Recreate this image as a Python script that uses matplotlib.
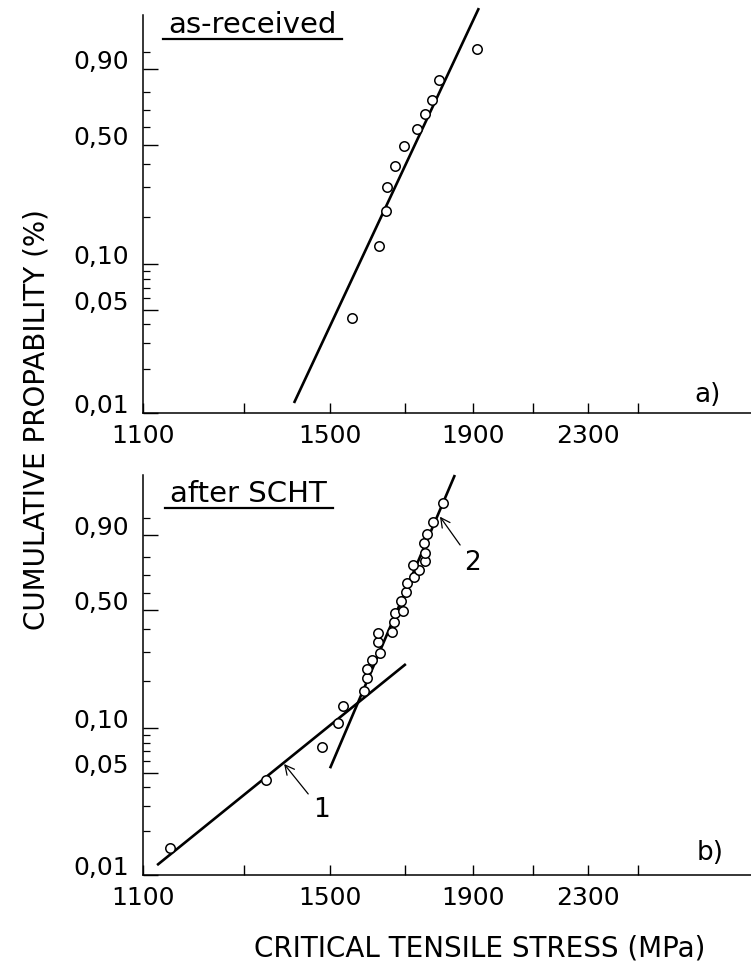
import numpy as np
import matplotlib
matplotlib.use("Agg")
import matplotlib.pyplot as plt
from matplotlib.lines import Line2D
from matplotlib.ticker import NullFormatter

# ---------------- data ----------------
# panel a) as-received
stress_a = [1555, 1628, 1646, 1649, 1671, 1697, 1734, 1756, 1777, 1798, 1915]
prob_a = [0.0439, 0.131, 0.218, 0.302, 0.392, 0.496, 0.589, 0.676, 0.756, 0.856, 0.958]
fit_a_stress = [1413, 1920]
fit_a_prob = [0.0117, 0.9976]

# panel b) after SCHT
stress_b = [1150, 1350, 1479, 1521, 1533, 1588, 1594, 1596, 1607, 1630,
            1623, 1623, 1663, 1668, 1671, 1694, 1687, 1701, 1705, 1725,
            1739, 1720, 1757, 1756, 1753, 1763, 1778, 1810]
prob_b = [0.0153, 0.0448, 0.0751, 0.107, 0.139, 0.172, 0.209, 0.237, 0.268, 0.296,
          0.341, 0.380, 0.387, 0.437, 0.482, 0.494, 0.551, 0.601, 0.658, 0.693,
          0.731, 0.760, 0.780, 0.823, 0.869, 0.903, 0.940, 0.978]
fit_b1_stress = [1126, 1701]
fit_b1_prob = [0.0117, 0.2536]
fit_b2_stress = [1500, 1845]
fit_b2_prob = [0.0538, 0.9975]

# annotations: (label, point on line, label position)
ann_b = [("1", (1390, 0.0575), (1478, 0.028)),
         ("2", (1800, 0.954), (1901, 0.77))]

# axes ticks
x_major = [1100, 1500, 1900, 2300]
x_major_labels = ["1100", "1500", "1900", "2300"]
x_minor = [1300, 1700, 2100, 2500]
y_major = [0.01, 0.05, 0.10, 0.50, 0.90]
y_major_labels = ["0,01", "0,05", "0,10", "0,50", "0,90"]
y_minor = [0.02, 0.03, 0.04, 0.06, 0.07, 0.08, 0.09, 0.2, 0.3, 0.4,
           0.6, 0.7, 0.8, 0.95]

titles = ["as-received", "after SCHT"]
panel_tags = ["a)", "b)"]
y_label = "CUMULATIVE PROPABILITY (%)"
x_label = "CRITICAL TENSILE STRESS (MPa)"

# ---------------- Weibull probability scale ----------------
def weib_fwd(p):
    p = np.clip(np.asarray(p, dtype=float), 1e-12, 1 - 1e-15)
    return np.log(-np.log1p(-p))


def weib_inv(w):
    return -np.expm1(-np.exp(np.asarray(w, dtype=float)))


W, H = 751, 974
fig = plt.figure(figsize=(W / 100, H / 100), dpi=100)
plt.rcParams["font.family"] = ["DejaVu Sans"]


def px_rect(x0, y_top, x1, y_bot):
    return [x0 / W, 1 - y_bot / H, (x1 - x0) / W, (y_bot - y_top) / H]


ax_a = fig.add_axes(px_rect(143, 15, 751, 413))
ax_b = fig.add_axes(px_rect(143, 475, 751, 875))

ytops = [0.99552, 0.9975]

for ax, ytop in zip([ax_a, ax_b], ytops):
    ax.set_xscale("log")
    ax.set_yscale("function", functions=(weib_fwd, weib_inv))
    ax.set_xlim(1100, 3015)
    ax.set_ylim(0.01, ytop)
    ax.set_xticks(x_major, x_major_labels)
    ax.set_xticks(x_minor, minor=True)
    ax.xaxis.set_minor_formatter(NullFormatter())
    ax.set_yticks(y_major, y_major_labels)
    ax.set_yticks(y_minor, minor=True)
    ax.yaxis.set_minor_formatter(NullFormatter())
    ax.spines["top"].set_visible(False)
    ax.spines["right"].set_visible(False)
    for s in ("left", "bottom"):
        ax.spines[s].set_linewidth(1.1)
    ax.tick_params(axis="x", which="both", direction="in", length=7,
                   width=1.0, labelsize=18, pad=8)
    ax.tick_params(axis="y", which="major", direction="in", length=11,
                   width=1.0, labelsize=18, pad=10)
    ax.tick_params(axis="y", which="minor", direction="in", length=5,
                   width=0.9)
    for lbl in ax.get_yticklabels():
        lbl.set_verticalalignment("baseline")

# panel a
ax_a.plot(fit_a_stress, fit_a_prob, color="black", lw=1.9, zorder=2,
          clip_on=False, solid_capstyle="butt")
ax_a.plot(stress_a, prob_a, linestyle="none", marker="o", markersize=6.8,
          markerfacecolor="white", markeredgecolor="black",
          markeredgewidth=1.1, zorder=3, clip_on=False)

# panel b
ax_b.plot(fit_b1_stress, fit_b1_prob, color="black", lw=1.9, zorder=2,
          solid_capstyle="butt")
ax_b.plot(fit_b2_stress, fit_b2_prob, color="black", lw=1.9, zorder=2,
          clip_on=False, solid_capstyle="butt")
ax_b.plot(stress_b, prob_b, linestyle="none", marker="o", markersize=6.8,
          markerfacecolor="white", markeredgecolor="black",
          markeredgewidth=1.1, zorder=3, clip_on=False)
for txt, xy, xyt in ann_b:
    ax_b.annotate(txt, xy=xy, xytext=xyt, fontsize=19, ha="center",
                  va="center", zorder=4,
                  arrowprops=dict(arrowstyle="->,head_length=0.35,head_width=0.18",
                                  color="black", lw=0.9, shrinkA=2, shrinkB=0))

# titles with underline
title_pos = [(168, 33, 39), (170, 502, 508)]
underline_data = []
for t, (x0, yb, yu) in zip(titles, title_pos):
    tx = fig.text(x0 / W, 1 - yb / H, t, fontsize=21, ha="left",
                  va="baseline")
    underline_data.append((tx, yu))

fig.canvas.draw()
renderer = fig.canvas.get_renderer()
for tx, yu in underline_data:
    bb = tx.get_window_extent(renderer)
    x0 = (bb.x0 - 5) / W
    x1 = (bb.x1 + 6) / W
    fig.add_artist(Line2D([x0, x1], [1 - yu / H, 1 - yu / H],
                          color="black", lw=1.6,
                          transform=fig.transFigure))

# panel tags
fig.text(708 / W, 1 - 395 / H, panel_tags[0], fontsize=19, ha="center",
         va="center")
fig.text(710 / W, 1 - 853 / H, panel_tags[1], fontsize=19, ha="center",
         va="center")

# axis titles
fig.text(37 / W, 1 - 420 / H, y_label, rotation=90, fontsize=20,
         ha="center", va="center")
fig.text(480 / W, 1 - 948 / H, x_label, fontsize=20, ha="center",
         va="center")

fig.savefig("out.png", dpi=100)
